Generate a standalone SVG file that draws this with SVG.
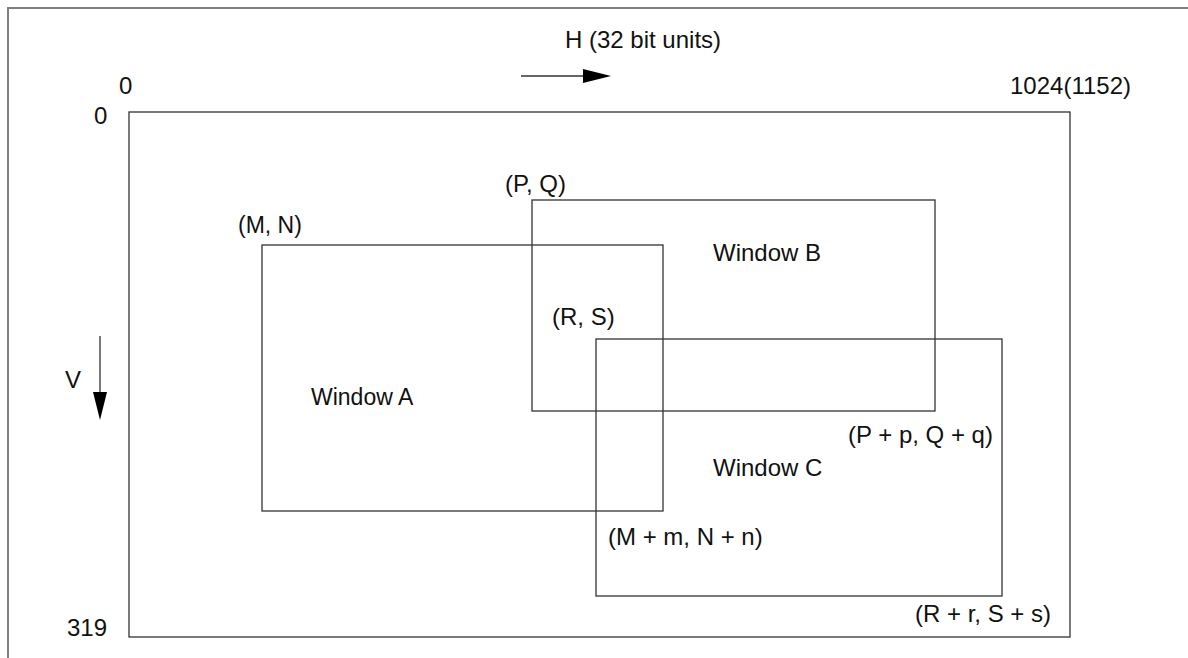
<svg xmlns="http://www.w3.org/2000/svg" width="1188" height="658" viewBox="0 0 1188 658">
<style>
text { font-family: "Liberation Sans", Arial, sans-serif; font-size: 24px; fill: #111; }
.c { font-size: 23px; }
.box { fill: none; stroke: #333; stroke-width: 1.3; }
.ax { stroke: #333; stroke-width: 1.3; fill: none; }
</style>
<defs>
<marker id="ah" viewBox="0 0 28 14" refX="0" refY="7" markerWidth="28" markerHeight="14" markerUnits="userSpaceOnUse" orient="auto">
<path d="M0,0 L28,7 L0,14 Z" fill="#000"/>
</marker>
</defs>
<rect x="0" y="0" width="1188" height="658" fill="#fff"/>
<path d="M8,670 V8 H1200" fill="none" stroke="#808080" stroke-width="2"/>
<g id="screen">
<rect class="box" x="129" y="112" width="941" height="525"/>
<text x="119" y="94">0</text>
<text x="94" y="124">0</text>
<text x="67" y="636">319</text>
<text x="1010" y="94">1024(1152)</text>
</g>
<g id="windowA">
<rect class="box" x="262" y="245" width="401" height="266"/>
<text class="c" x="238" y="233">(M, N)</text>
<text class="c" x="311" y="405">Window A</text>
<text x="608" y="545">(M + m, N + n)</text>
</g>
<g id="windowB">
<rect class="box" x="532" y="200" width="403" height="211"/>
<text x="505" y="192">(P, Q)</text>
<text x="713" y="261">Window B</text>
<text x="848" y="443">(P + p, Q + q)</text>
</g>
<g id="windowC">
<rect class="box" x="596" y="339" width="406" height="257"/>
<text x="552" y="325">(R, S)</text>
<text x="713" y="476">Window C</text>
<text x="915" y="622">(R + r, S + s)</text>
</g>
<g id="connectors">
<line class="ax" x1="521" y1="76" x2="583" y2="76" marker-end="url(#ah)"/>
<line class="ax" x1="100" y1="336" x2="100" y2="392" marker-end="url(#ah)"/>
<text x="565" y="48">H (32 bit units)</text>
<text x="65" y="388">V</text>
</g>
</svg>
